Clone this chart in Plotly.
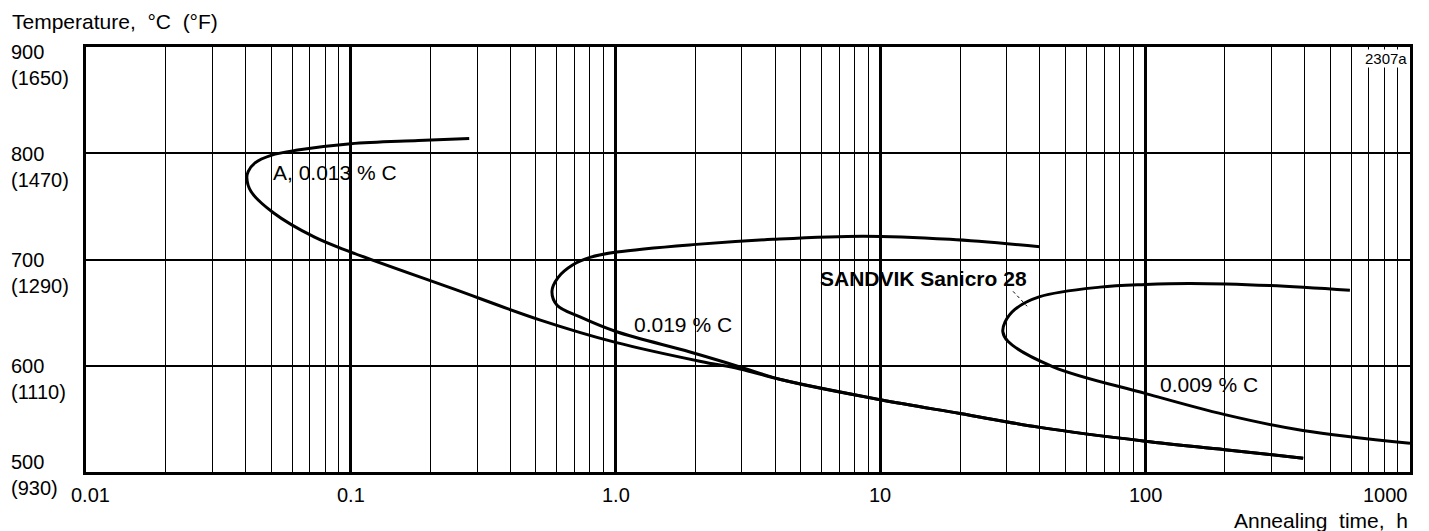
import math
import plotly.graph_objects as go

# ---------------- data ----------------
a_time = [0.28, 0.18, 0.10, 0.063, 0.050, 0.0435, 0.041, 0.0405, 0.042, 0.051, 0.073, 0.10,
          0.24, 0.52, 1.0, 2.1, 2.95, 4.2, 10, 20, 40, 100, 200, 395]
a_temp = [814, 812, 809, 803, 798, 791, 783, 777, 764, 744, 721, 707,
          673, 643, 622, 604, 597, 587, 568, 555, 542, 529, 521, 513]

b_time = [40, 18.3, 8.6, 3.93, 1.96, 1.01, 0.80, 0.69, 0.606, 0.575, 0.601, 0.734, 1.01,
          1.91, 2.95, 4.2, 10, 20, 40, 100, 200, 395]
b_temp = [712, 719, 722, 719, 714, 707, 702, 695, 683, 670, 657, 646, 632,
          613, 599, 587, 568, 555, 542, 529, 521, 513]

c_time = [593, 296, 148, 100, 67.5, 40, 32.2, 29.55, 29.0, 30.3, 44.9, 100, 200, 394, 1000]
c_temp = [671, 675.5, 677.5, 676.5, 674, 665, 653, 641, 632, 623, 599, 574, 554, 539, 527]

leader_time = [31.7, 35.8]
leader_temp = [670, 656]

label_text = ["A, 0.013 % C", "0.019 % C", "SANDVIK Sanicro 28", "0.009 % C"]
label_time = [0.0508, 1.174, 5.91, 114]
label_temp = [782, 639, 682, 582]
label_bold = [False, False, True, False]

x_tickvals = [0.01, 0.1, 1, 10, 100, 1000]
x_ticktext = ["0.01", "0.1", "1.0", "10", "100", "1000"]
y_tickvals = [900, 800, 700, 600, 500]
y_ticktext = ["900<br>(1650)", "800<br>(1470)", "700<br>(1290)", "600<br>(1110)", "500<br>(930)"]
y_label_shift = [-18, -14, -13, -13, -3]

FONT = "Liberation Sans, Arial, Helvetica, sans-serif"
INK = "black"

fig = go.Figure()
for xs, ys in [(a_time, a_temp), (b_time, b_temp), (c_time, c_temp)]:
    fig.add_trace(go.Scatter(x=xs, y=ys, mode="lines",
                             line=dict(color=INK, width=3, shape="spline", smoothing=1.0),
                             hoverinfo="skip", showlegend=False))
fig.add_trace(go.Scatter(x=leader_time, y=leader_temp, mode="lines",
                         line=dict(color=INK, width=1, dash="3px,3px"),
                         hoverinfo="skip", showlegend=False))

minor_vals = [m * 10 ** e for e in range(-2, 3) for m in range(2, 10)]

fig.update_xaxes(type="log", range=[-2, 3], showticklabels=False,
                 tickvals=x_tickvals, ticks="", showgrid=True, gridcolor=INK, gridwidth=2.5,
                 minor=dict(tickvals=minor_vals, showgrid=True, gridcolor=INK, gridwidth=1, ticks=""),
                 showline=True, linecolor=INK, linewidth=2.5, mirror=True, zeroline=False)
fig.update_yaxes(range=[500, 900], showticklabels=False, tickvals=y_tickvals, ticks="",
                 showgrid=True, gridcolor=INK, gridwidth=1.5,
                 showline=True, linecolor=INK, linewidth=2.5, mirror=True, zeroline=False)

ann = []
for i, (v, t) in enumerate(zip(x_tickvals, x_ticktext)):
    anchor = "right" if v == max(x_tickvals) else "center"
    ann.append(dict(x=math.log10(v), y=0, xref="x", yref="paper", text=t, showarrow=False,
                    xanchor=anchor, yanchor="middle", yshift=-23,
                    xshift=4 if i == 0 else 0,
                    font=dict(family=FONT, size=20, color=INK)))
for v, t, s in zip(y_tickvals, y_ticktext, y_label_shift):
    ann.append(dict(x=0, y=v, xref="paper", yref="y", text=t, showarrow=False,
                    xanchor="left", yanchor="middle", xshift=-77, yshift=s, align="left",
                    font=dict(family=FONT, size=20, color=INK)))
for t, x, y, b in zip(label_text, label_time, label_temp, label_bold):
    ann.append(dict(x=math.log10(x), y=y, xref="x", yref="y", text=f"<b>{t}</b>" if b else t,
                    showarrow=False, xanchor="left", yanchor="middle", xshift=-2,
                    font=dict(family=FONT, size=21, color=INK)))
ann.append(dict(x=0, y=1, xref="paper", yref="paper", text="Temperature,  °C  (°F)",
                showarrow=False, xanchor="left", yanchor="middle", xshift=-76, yshift=26,
                font=dict(family=FONT, size=21, color=INK)))
ann.append(dict(x=1, y=0, xref="paper", yref="paper", text="Annealing  time,  h",
                showarrow=False, xanchor="right", yanchor="middle", yshift=-48,
                font=dict(family=FONT, size=21, color=INK)))
ann.append(dict(x=1, y=1, xref="paper", yref="paper", text="2307a",
                showarrow=False, xanchor="right", yanchor="top", xshift=-2, yshift=-2,
                bgcolor="white", borderpad=0,
                font=dict(family=FONT, size=15, color=INK)))

fig.update_layout(width=1429, height=531, margin=dict(l=86, r=19, t=47, b=59),
                  paper_bgcolor="white", plot_bgcolor="white", annotations=ann,
                  font=dict(family=FONT, color=INK))

fig.write_html("out.html")
